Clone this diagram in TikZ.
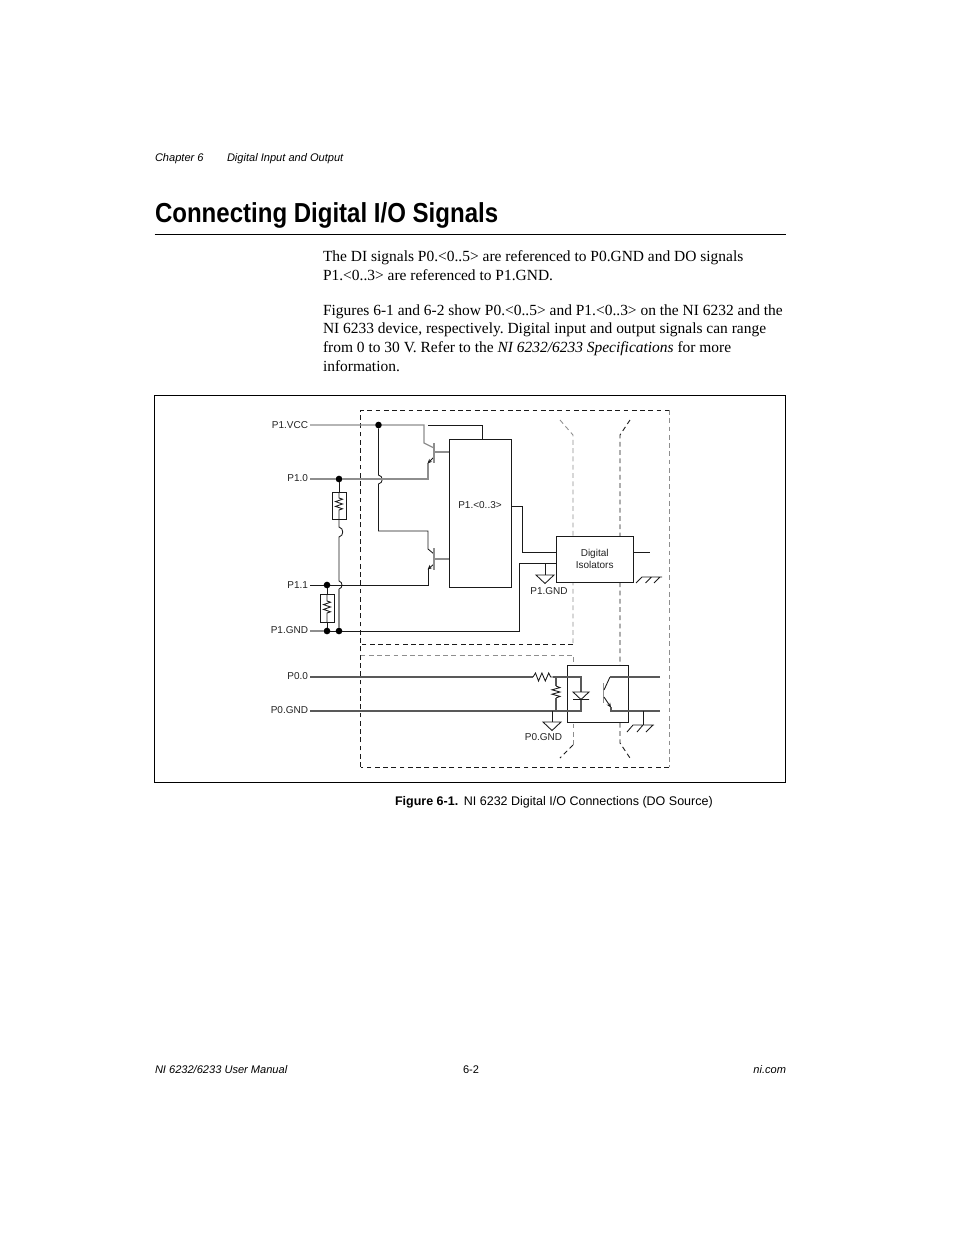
\documentclass[tikz,border=0pt]{standalone}
\usepackage{fontspec}
\setmainfont{Liberation Serif}
\newfontfamily\hv{Liberation Sans}
\usetikzlibrary{arrows.meta}
\definecolor{gw}{HTML}{8E8E8E}
\definecolor{dw}{HTML}{1A1A1A}
\definecolor{lab}{HTML}{222222}
\tikzset{
 every node/.style={outer sep=0pt},
 wire/.style={draw=dw,line width=0.65pt,line join=miter},
 gwire/.style={draw=gw,line width=0.9pt},
 mwire/.style={draw=black!65,line width=0.9pt},
 dbox/.style={draw=dw,line width=0.65pt,dash pattern=on 3.6pt off 2.6pt},
 gbox/.style={draw=gw,line width=0.65pt,dash pattern=on 3.6pt off 2.6pt},
 dot/.style={circle,fill=black,inner sep=0pt,minimum size=5pt},
 lbl/.style={font=\hv\fontsize{7.5}{9}\selectfont,text=lab,inner sep=0pt},
 body/.style={font=\fontsize{11.6}{14}\selectfont\frenchspacing,anchor=base west,inner sep=0pt,text=black},
 foot/.style={font=\hv\fontsize{8.3}{10}\selectfont\itshape,inner sep=0pt,text=black},
 part/.style={draw=dw,line width=0.75pt,fill=white,inner sep=0pt},
 tip/.style={-{Stealth[length=3.5pt,width=3pt]}},
}
\begin{document}
\begin{tikzpicture}[x=0.75pt,y=-0.75pt]
\useasboundingbox (0,0) rectangle (954,1235);
% page text
\node[foot,anchor=base west] (hc) at (155,161) {Chapter 6};
\node[foot,anchor=base west] (hd) at (227,161) {Digital Input and Output};
\node[anchor=base west,inner sep=0pt,xscale=0.875,font=\hv\bfseries\fontsize{20.6}{24}\selectfont] (title) at (155,222.5) {Connecting Digital I/O Signals};
\draw[line width=0.6pt,black] (154.5,234.5) coordinate (ra) -- (785.5,234.5) coordinate (rb);
\node[body] (b1) at (323,261) {The DI signals P0.<0..5> are referenced to P0.GND and DO signals};
\node[body] (b2) at (323,280) {P1.<0..3> are referenced to P1.GND.};
\node[body] (b3) at (323,315) {Figures 6-1 and 6-2 show P0.<0..5> and P1.<0..3> on the NI 6232 and the};
\node[body] (b4) at (323,333.5) {NI 6233 device, respectively. Digital input and output signals can range};
\node[body] (b5) at (323,352) {from 0 to 30 V. Refer to the \textit{NI 6232/6233 Specifications} for more};
\node[body] (b6) at (323,371) {information.};
\node[draw=black,line width=0.65pt,minimum width=473.25pt,minimum height=290.25pt,inner sep=0pt,anchor=north west] (frame) at (154.5,395.5) {};
\node[anchor=base west,inner sep=0pt,font=\hv\fontsize{9.38}{11}\selectfont] (cap) at (395,805) {\textbf{Figure 6-1.}\hspace{0.45em}NI 6232 Digital I/O Connections (DO Source)};
\node[foot,anchor=base west] (fl) at (155,1073) {NI 6232/6233 User Manual};
\node[anchor=base,inner sep=0pt,font=\hv\fontsize{8.3}{10}\selectfont] (fm) at (471,1073) {6-2};
\node[foot,anchor=base east] (fr) at (786,1073) {ni.com};

% dashed enclosures
\draw[dbox] (360.5,767) -- (360.5,410) -- (669,410);
\draw[gbox] (669,410) -- (669,767);
\draw[dbox] (669,767) -- (360.5,767);
\draw[gbox] (560,420) -- (573,435) -- (573,644);
\draw[dbox] (573,644) -- (360.5,644);
\draw[gbox] (360.5,655) -- (573,655) -- (573,745);
\draw[dbox] (573,745) -- (560,758);
\draw[dbox] (630,420) -- (620,435) -- (620,743) -- (630,758);

% coordinates
\coordinate (vccL) at (310,425);
\coordinate (p10L) at (310,479);
\coordinate (p11L) at (310,585);
\coordinate (gndL) at (310,631);
\coordinate (p00L) at (310,677);
\coordinate (p0gL) at (310,711);
\node[dot] (jv) at (378.5,425) {};
\node[dot] (j10) at (339,479) {};
\node[dot] (j11) at (327,585) {};
\node[dot] (jg1) at (327,631) {};
\node[dot] (jg2) at (339,631) {};

% labels
\node[lbl,anchor=east] (lv) at (308,425) {P1.VCC};
\node[lbl,anchor=east] (l10) at (308,478.5) {P1.0};
\node[lbl,anchor=east] (l11) at (308,585.5) {P1.1};
\node[lbl,anchor=east] (lg) at (308,630.5) {P1.GND};
\node[lbl,anchor=east] (l00) at (308,676.5) {P0.0};
\node[lbl,anchor=east] (l0g) at (308,710.5) {P0.GND};

% wires
\draw[gwire] (vccL) -- (jv) -- (424,425) -- (424,443) -- (434,448);
\draw[wire] (428,425) -- (482,425) -- (482,439);
\draw[wire] (jv) -- (378.5,475) .. controls (383.5,476) and (383.5,483) .. (378.5,484) -- (378.5,531) -- (428,531) -- (428,549) -- (434,554);
\draw[gwire] (p10L) -- (j10) -- (428,479) -- (428,463);
\draw[wire,tip] (434,457) -- (427.5,463.5);
\draw[wire] (p11L) -- (j11) -- (428,585) -- (428,569);
\draw[wire,tip] (434,564) -- (427.5,569.5);
\draw[gwire] (434,443) -- (434,463) (434,452) -- (449,452);
\draw[gwire] (434,548) -- (434,570) (434,559) -- (449,559);
% P1 resistors and rail
\draw[wire] (j10) -- (339,492);
\draw[wire] (339,519) -- (339,527) .. controls (344,528) and (344,536) .. (339,537) -- (339,581);
\draw[wire] (339,581) .. controls (343,582) and (343,588) .. (339,589);
\draw[gwire] (339,589) -- (jg2);
\draw[wire] (j11) -- (327,594) (327,622) -- (jg1);
\node[part,minimum width=10.5pt,minimum height=20.25pt,anchor=north west,fill=none] (r1) at (332.5,492) {};
\node[part,minimum width=10.5pt,minimum height=21pt,anchor=north west,fill=none] (r2) at (320,594) {};
\draw[wire] (339,492) -- (339,498) -- ++(3.5,1.2) -- ++(-7,2.4) -- ++(7,2.4) -- ++(-7,2.4) -- ++(7,2.4) -- ++(-3.5,1.2) -- (339,519);
\draw[wire] (327,594) -- (327,601) -- ++(3.5,1.2) -- ++(-7,2.4) -- ++(7,2.4) -- ++(-7,2.4) -- ++(7,2.4) -- ++(-3.5,1.2) -- (327,622);
\draw[gwire] (gndL) -- (jg1);
\draw[wire] (jg1) -- (jg2) -- (519,631) -- (519,563) -- (556,563);
% IC box
\node[part,minimum width=46.5pt,minimum height=111pt,anchor=north west] (ic) at (449.5,439.5) {};
\node[lbl] (ict) at (480,505) {P1.<0..3>};
\draw[wire] (ic.east |- 0,506) -- (522,506) -- (522,552) -- (556,552);
% isolators
\node[part,minimum width=58pt,minimum height=34.5pt,anchor=north west,align=center,font=\hv\fontsize{7.5}{9.1}\selectfont,text=lab] (iso) at (556,536) {Digital\\Isolators};
\draw[wire] (iso.east |- 0,552) -- (650,552);
\draw[wire] (545,563) -- (545,575);
\draw[wire] (536,575) -- (554,575) -- (545,583.5) -- cycle;
\node[lbl] (pg1) at (549,591.5) {P1.GND};
\draw[wire] (642,577) -- (662,577) (636,583) -- (642,577) (645.5,583) -- (651.5,577) (654,583) -- (660,577);
% isolation lower
\node[part,minimum width=46pt,minimum height=42.75pt,anchor=north west] (opto) at (567,665) {};
\draw[mwire] (p00L) -- (533,677);
\draw[mwire] (p0gL) -- (581,711) -- (581,699);
\draw[wire] (533,677) -- ++(2.5,-4) -- ++(3,8) -- ++(3.4,-8) -- ++(3.4,8) -- ++(3.4,-8) -- ++(2,4) -- (553,677);
\draw[mwire] (553,677) -- (581,677) -- (581,692);
\draw[mwire] (556,677) -- (556,686);
\draw[wire] (556,686) -- ++(4,1.6) -- ++(-8,2.2) -- ++(8,2.2) -- ++(-8,2.2) -- ++(8,2.2) -- ++(-4,1.6);
\draw[mwire] (556,698) -- (556,711);
\draw[wire] (573,692) -- (589,692) -- (581,699.5) -- cycle (573,699.5) -- (589,699.5);
\draw[wire] (552,711) -- (552,722);
\draw[wire] (543,722) -- (561,722) -- (552,730.5) -- cycle;
\node[lbl] (pg0) at (543.5,737.5) {P0.GND};
\draw[gwire] (603.5,683) -- (603.5,703);
\draw[wire] (604,690) -- (610,677);
\draw[mwire] (610,677) -- (660,677);
\draw[wire,tip] (604,697) -- (611,707.5);
\draw[mwire] (611,707) -- (611,711) -- (660,711);
\draw[wire] (643,711) -- (643,725);
\draw[wire] (633,725) -- (654,725) (627,732) -- (633,725) (637,732) -- (643,725) (646,732) -- (653,725);
\end{tikzpicture}
\end{document}
